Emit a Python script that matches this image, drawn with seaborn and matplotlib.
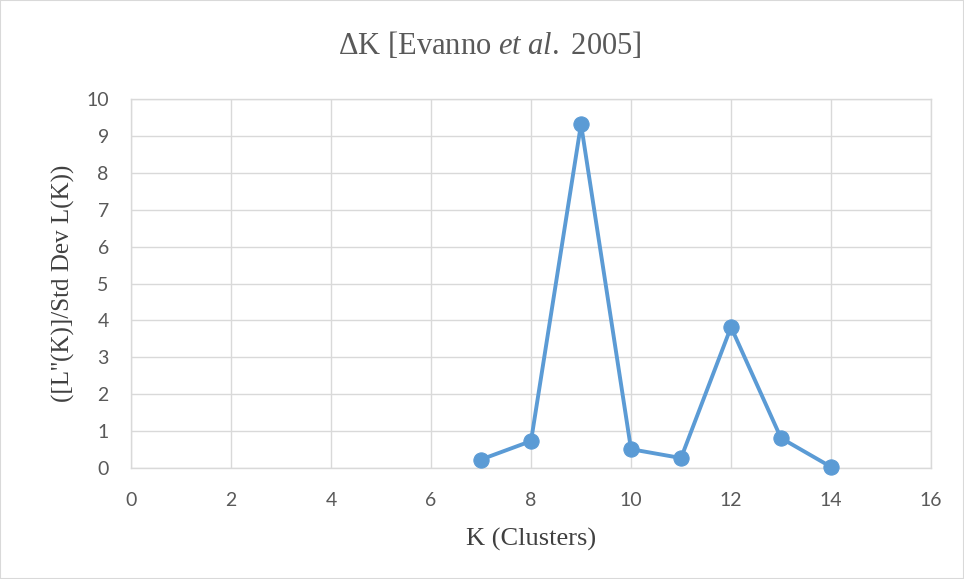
import matplotlib
matplotlib.use("Agg")
import matplotlib.pyplot as plt
import seaborn as sns
import pandas as pd
from matplotlib.patches import Rectangle

# Delta K per number of clusters (Evanno method)
k_values = [7, 8, 9, 10, 11, 12, 13, 14]
delta_k = [0.23, 0.73, 9.32, 0.51, 0.27, 3.82, 0.81, 0.03]
x_ticks = [0, 2, 4, 6, 8, 10, 12, 14, 16]
y_ticks = [0, 1, 2, 3, 4, 5, 6, 7, 8, 9, 10]

df = pd.DataFrame({"K": k_values, "dK": delta_k})

sns.set_theme(style="white")
plt.rcParams["font.family"] = ["Liberation Serif", "DejaVu Serif"]
plt.rcParams["mathtext.fontset"] = "custom"
plt.rcParams["mathtext.rm"] = "Liberation Serif"
plt.rcParams["mathtext.it"] = "Liberation Serif:italic"

fig = plt.figure(figsize=(9.64, 5.79), dpi=100)
ax = fig.add_axes([0.1359, 0.1917, 0.8299, 0.6373])

grid_c = "#D9D9D9"
blue = "#5B9BD5"

sns.lineplot(data=df, x="K", y="dK", ax=ax, color=blue, linewidth=2.8,
             marker="o", markersize=11, markeredgecolor=blue,
             markerfacecolor=blue, clip_on=False, zorder=3)

ax.set_xlim(0, 16)
ax.set_ylim(0, 10)
ax.set_xticks(x_ticks)
ax.set_yticks(y_ticks)
ax.grid(True, color=grid_c, linewidth=1.0)
ax.set_axisbelow(True)
for s in ax.spines.values():
    s.set_color(grid_c)
    s.set_linewidth(1.0)
ax.tick_params(axis="x", length=0, pad=17, labelcolor="#595959")
ax.tick_params(axis="y", length=0, pad=16, labelcolor="#595959")
for lab in ax.get_xticklabels() + ax.get_yticklabels():
    lab.set_fontfamily(["Lato", "DejaVu Sans"])
    lab.set_fontsize(14)

ax.set_xlabel("K (Clusters)", fontsize=19, color="#404040", labelpad=14)
ax.set_ylabel("([L''(K)]/Std Dev L(K))", fontsize=18, color="#404040", labelpad=8)

fig.text(0.508, 0.922, r"ΔK [Evanno $\mathit{et\ al.}$ 2005]", ha="center", va="center",
         fontsize=22, color="#595959")

fig.patches.append(Rectangle((0.0, 0.0), 1.0, 1.0, transform=fig.transFigure,
                             fill=False, edgecolor=grid_c, linewidth=1.5))

fig.savefig("out.png", dpi=100)
